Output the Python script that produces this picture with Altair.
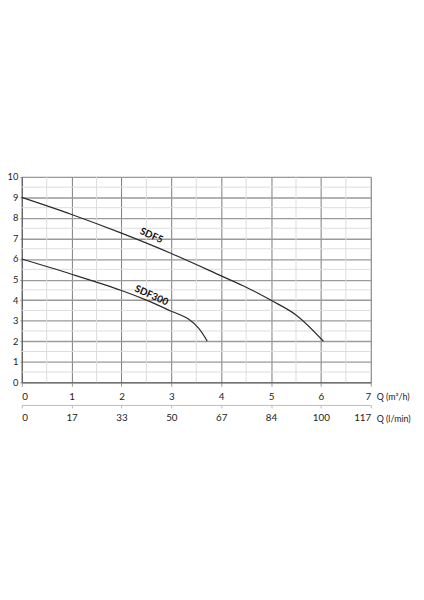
import altair as alt
import pandas as pd

# ---- data ----
q_m3h_ticks = [0, 1, 2, 3, 4, 5, 6, 7]
q_lmin_labels = ["0", "17", "33", "50", "67", "84", "100", "117"]
h_ticks = [0, 1, 2, 3, 4, 5, 6, 7, 8, 9, 10]

sdf5_q = [0, 1, 2, 3, 4, 4.5, 5, 5.5, 6.05]
sdf5_h = [9.0, 8.17, 7.26, 6.27, 5.18, 4.63, 3.99, 3.28, 2.0]
sdf300_q = [0, 1, 2, 2.5, 3, 3.35, 3.55, 3.72]
sdf300_h = [6.0, 5.26, 4.47, 4.0, 3.46, 3.07, 2.62, 2.0]

minor_x = [0.5, 1.5, 2.5, 3.5, 4.5, 5.5, 6.5]
minor_y = [0.5, 1.5, 2.5, 3.5, 4.5, 5.5, 6.5, 7.5, 8.5, 9.5]

curve_labels = ["SDF5", "SDF300"]
curve_label_q = [2.6, 2.6]
curve_label_h = [7.13, 4.22]

unit_m3h = "Q (m³/h)"
unit_lmin = "Q (l/min)"

FONT = "Lato"
W, H = 355, 209

curves = pd.concat([
    pd.DataFrame({"q": sdf5_q, "h": sdf5_h, "s": "SDF5"}),
    pd.DataFrame({"q": sdf300_q, "h": sdf300_h, "s": "SDF300"}),
])

xs = alt.Scale(domain=[0, 7], nice=False, zero=False)
ys = alt.Scale(domain=[0, 10], nice=False, zero=False)

minor_v = alt.Chart(pd.DataFrame({"x": minor_x})).mark_rule(
    color="#dcdcdc", strokeWidth=1
).encode(x=alt.X("x:Q", scale=xs, axis=None))

minor_h = alt.Chart(pd.DataFrame({"y": minor_y})).mark_rule(
    color="#dcdcdc", strokeWidth=1
).encode(y=alt.Y("y:Q", scale=ys, axis=None))

lines = alt.Chart(curves).mark_line(
    color="#2b2b2b", strokeWidth=1.2, interpolate="catmull-rom"
).encode(
    x=alt.X("q:Q", scale=xs, axis=alt.Axis(
        values=q_m3h_ticks, title=None, grid=True, gridColor="#7a7a7a", gridWidth=1,
        domainColor="#555555", tickColor="#999999", tickSize=4, labelPadding=5,
        labelFont=FONT, labelFontSize=10, labelColor="#222222", format="d", orient="bottom",
    )),
    y=alt.Y("h:Q", scale=ys, axis=alt.Axis(
        values=h_ticks, title=None, grid=True, gridColor="#9a9a9a", gridWidth=1.4,
        domainColor="#555555", tickColor="#999999", tickSize=2, labelPadding=2,
        labelFont=FONT, labelFontSize=9.5, labelColor="#222222", format="d",
    )),
    detail="s:N",
)

lmin_expr = "[" + ",".join("'%s'" % s for s in q_lmin_labels) + "][datum.value]"
second_axis = alt.Chart(pd.DataFrame({"q": q_m3h_ticks})).mark_point(opacity=0).encode(
    x=alt.X("q:Q", scale=xs, axis=alt.Axis(
        values=q_m3h_ticks, title=None, grid=False, orient="bottom", offset=23,
        domainColor="#bbbbbb", tickColor="#bbbbbb", tickSize=3, labelPadding=5,
        labelFont=FONT, labelFontSize=10, labelColor="#222222", labelExpr=lmin_expr,
    )),
)

labels = alt.Chart(pd.DataFrame({"q": curve_label_q, "h": curve_label_h, "t": curve_labels})).mark_text(
    font=FONT, fontSize=10, fontWeight="bold", angle=24, color="#111111"
).encode(
    x=alt.X("q:Q", scale=xs, axis=None),
    y=alt.Y("h:Q", scale=ys, axis=None),
    text="t:N",
)

def unit_layer(txt, dy):
    return alt.Chart(pd.DataFrame({"t": [txt], "q": [7], "h": [0]})).mark_text(
        font=FONT, fontSize=9, color="#222222", align="left", baseline="middle", dx=6, dy=dy
    ).encode(
        x=alt.X("q:Q", scale=xs, axis=None),
        y=alt.Y("h:Q", scale=ys, axis=None),
        text="t:N",
    )

units1 = unit_layer(unit_m3h, 15)
units2 = unit_layer(unit_lmin, 37)

chart = alt.layer(minor_v, minor_h, lines, second_axis, labels, units1, units2).resolve_axis(
    x="independent", y="independent"
).properties(
    width=W, height=H,
    autosize=alt.AutoSizeParams(type="none"),
    padding={"left": 14, "top": 168, "right": 46, "bottom": 60},
).configure_view(stroke="#aaaaaa", strokeWidth=1).configure(background="white")

chart.save("out.html", embed_options={"renderer": "svg", "actions": False})
